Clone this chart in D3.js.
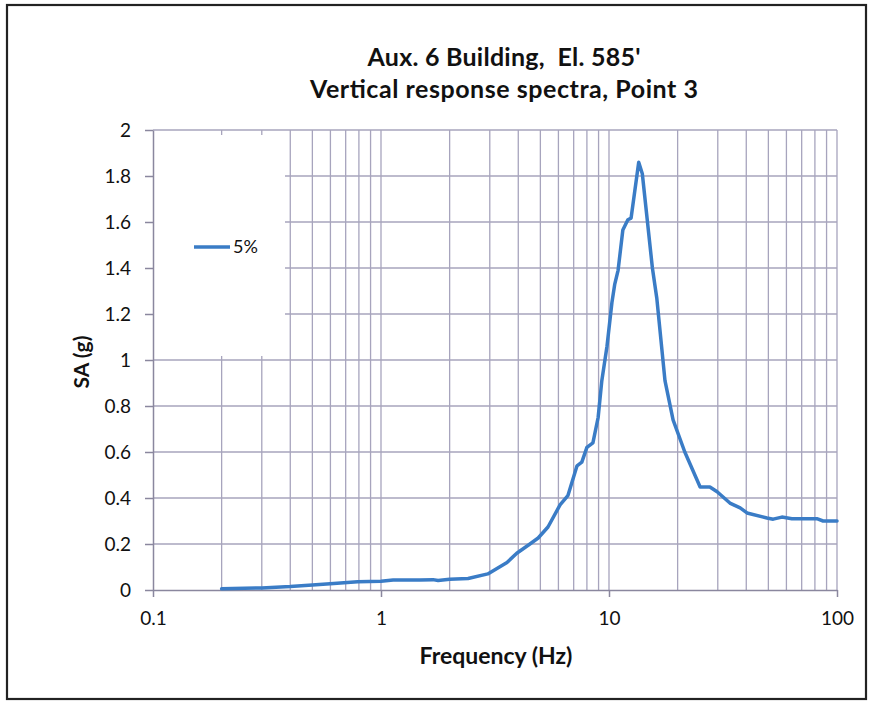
<!DOCTYPE html>
<html>
<head>
<meta charset="utf-8">
<script src="https://cdn.jsdelivr.net/npm/d3@7"></script>
<style>
  html, body { margin: 0; padding: 0; background: #fff; }
  svg { display: block; }
  text { font-family: Lato, "Open Sans", sans-serif; fill: #111; white-space: pre; }
</style>
</head>
<body>
<svg id="chart" width="870" height="702"></svg>
<script>
// ---- data ----
const titleLines = ["Aux. 6 Building,  El. 585'", "Vertical response spectra, Point 3"];
const xTitle = "Frequency (Hz)";
const yTitle = "SA (g)";
const seriesName = "5%";
const freq = [0.2, 0.3, 0.4, 0.5, 0.62, 0.79, 1.0, 1.13, 1.48, 1.69, 1.78, 2.0, 2.41, 2.94, 3.57, 3.94, 4.5, 4.89, 5.4, 6.1, 6.6, 7.24, 7.6, 8.0, 8.5, 8.96, 9.3, 9.8, 10.3, 10.6, 10.96, 11.5, 12.1, 12.5, 13.5, 14.0, 15.5, 16.2, 17.6, 19.1, 21.5, 25.1, 27.7, 29.8, 33.9, 37.6, 40.3, 49.3, 52.5, 57.3, 63.4, 81.6, 86.9, 100];
const sa =   [0.005, 0.009, 0.015, 0.022, 0.028, 0.036, 0.038, 0.043, 0.043, 0.045, 0.041, 0.047, 0.05, 0.07, 0.12, 0.16, 0.2, 0.226, 0.274, 0.37, 0.41, 0.54, 0.556, 0.62, 0.64, 0.75, 0.91, 1.06, 1.25, 1.33, 1.39, 1.565, 1.61, 1.617, 1.86, 1.81, 1.40, 1.27, 0.91, 0.74, 0.60, 0.448, 0.448, 0.427, 0.378, 0.357, 0.335, 0.313, 0.308, 0.317, 0.31, 0.31, 0.30, 0.30];
const xTickValues = [0.1, 1, 10, 100];
const xTickLabels = ["0.1", "1", "10", "100"];
const yTickValues = [0, 0.2, 0.4, 0.6, 0.8, 1, 1.2, 1.4, 1.6, 1.8, 2];
const yTickLabels = ["0", "0.2", "0.4", "0.6", "0.8", "1", "1.2", "1.4", "1.6", "1.8", "2"];

// ---- layout ----
const svg = d3.select("#chart");
const L = 153, R = 837, T = 130, B = 590;
const x = d3.scaleLog().domain([0.1, 100]).range([L, R]);
const y = d3.scaleLinear().domain([0, 2]).range([B, T]);
const gridColor = "#a7a4bd";
const axisColor = "#8a879e";

// frame
svg.append("rect").attr("x", 7).attr("y", 5).attr("width", 859).attr("height", 694)
  .attr("fill", "#fff").attr("stroke", "#222").attr("stroke-width", 2.2);

// vertical grid (minor log ticks)
const minor = [];
for (let dec = 0.1; dec < 100; dec *= 10) {
  for (let k = 2; k <= 9; k++) minor.push(+(dec * k).toPrecision(3));
}
const vgrid = minor.concat([1, 10, 100]);
svg.append("g").selectAll("line").data(vgrid).join("line")
  .attr("x1", d => x(d)).attr("x2", d => x(d))
  .attr("y1", T).attr("y2", B)
  .attr("stroke", gridColor).attr("stroke-width", 1.3);

// horizontal grid
svg.append("g").selectAll("line").data(yTickValues.filter(v => v > 0)).join("line")
  .attr("x1", L).attr("x2", R)
  .attr("y1", d => y(d)).attr("y2", d => y(d))
  .attr("stroke", gridColor).attr("stroke-width", 1.3);

// legend background (covers grid)
svg.append("rect").attr("x", L + 1).attr("y", 135).attr("width", 131).attr("height", 221)
  .attr("fill", "#fff");

// axes
const xAxis = d3.axisBottom(x).tickValues(xTickValues)
  .tickFormat((d, i) => xTickLabels[i]).tickSize(7).tickSizeOuter(0);
const gx = svg.append("g").attr("transform", `translate(0,${B})`).call(xAxis);
gx.select(".domain").attr("stroke", axisColor).attr("stroke-width", 1.5);
gx.selectAll(".tick line").attr("stroke", axisColor).attr("stroke-width", 1.5);
gx.selectAll(".tick text").attr("font-size", 19).attr("dy", "1.3em")
  .style("font-family", "Lato, sans-serif").attr("fill", "#111");

const yAxis = d3.axisLeft(y).tickValues(yTickValues)
  .tickFormat((d, i) => yTickLabels[i]).tickSize(8).tickSizeOuter(0);
const gy = svg.append("g").attr("transform", `translate(${L},0)`).call(yAxis);
gy.select(".domain").attr("stroke", axisColor).attr("stroke-width", 1.5);
gy.selectAll(".tick line").attr("stroke", axisColor).attr("stroke-width", 1.5);
gy.selectAll(".tick text").attr("font-size", 19).attr("x", -22)
  .style("font-family", "Lato, sans-serif").attr("fill", "#111");

// data line
const line = d3.line().x(d => x(d[0])).y(d => y(d[1]));
svg.append("path").datum(freq.map((f, i) => [f, sa[i]]))
  .attr("d", line).attr("fill", "none")
  .attr("stroke", "#3a7cc6").attr("stroke-width", 3.5)
  .attr("stroke-linejoin", "round").attr("stroke-linecap", "round");

// legend
svg.append("line").attr("x1", 194).attr("x2", 230).attr("y1", 247).attr("y2", 247)
  .attr("stroke", "#3a7cc6").attr("stroke-width", 3.5);
svg.append("text").attr("x", 233).attr("y", 253).attr("font-size", 18).text(seriesName);

// titles
svg.append("text").attr("x", 504).attr("y", 66).attr("text-anchor", "middle")
  .attr("font-size", 25).attr("font-weight", "bold")
  .attr("textLength", 273).attr("lengthAdjust", "spacing").text(titleLines[0]);
svg.append("text").attr("x", 504).attr("y", 98).attr("text-anchor", "middle")
  .attr("font-size", 25).attr("font-weight", "bold")
  .attr("textLength", 388).attr("lengthAdjust", "spacing").text(titleLines[1]);
svg.append("text").attr("x", 496).attr("y", 664).attr("text-anchor", "middle")
  .attr("font-size", 23).attr("font-weight", "bold").text(xTitle);
svg.append("text").attr("transform", "translate(89,362) rotate(-90)")
  .attr("text-anchor", "middle").attr("font-size", 21).attr("font-weight", "bold").text(yTitle);
</script>
</body>
</html>
